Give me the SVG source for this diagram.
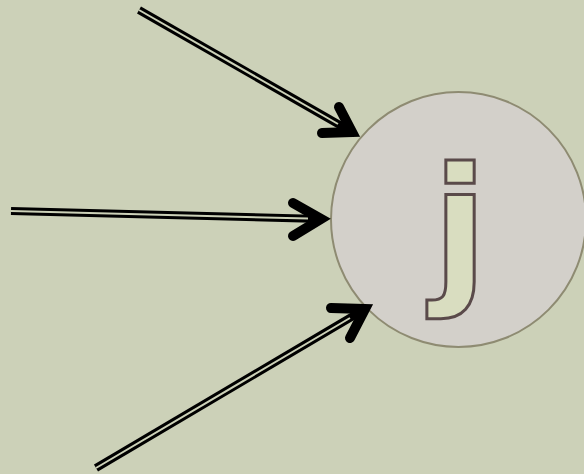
<svg xmlns="http://www.w3.org/2000/svg" width="584" height="474" viewBox="0 0 584 474">
<style>
.shaft{fill:none;stroke:#000;stroke-width:8;stroke-linecap:butt}
.inner{fill:none;stroke:#ccd1b8;stroke-width:2;stroke-linecap:butt}
.head{fill:none;stroke:#000;stroke-width:10;stroke-linecap:round;stroke-linejoin:miter;stroke-miterlimit:10}
.node{fill:#d3d0ca;stroke:#8e8b72;stroke-width:2}
.lbl{font-family:"DejaVu Sans",sans-serif;font-weight:bold;font-size:162px;fill:#d9ddc0;stroke:#5a4a4a;stroke-width:3;text-anchor:middle}
</style>
<rect width="584" height="474" fill="#ccd1b8"/>
<g id="node-j">
<circle class="node" cx="458.5" cy="219.5" r="127.5"/>
<text class="lbl" x="460" y="283">j</text>
</g>
<g id="connectors">
<g id="arrow-top">
<path class="shaft" d="M139,10 L352,132"/>
<path class="inner" d="M139,10 L338,124"/>
<path class="head" d="M339,107 L352,132 L322,133"/>
</g>
<g id="arrow-mid">
<path class="shaft" d="M11,211 L321,219"/>
<path class="inner" d="M11,211 L308,218.6"/>
<path class="head" d="M293,203 L321,219 L293,236"/>
</g>
<g id="arrow-bottom">
<path class="shaft" d="M96,468 L365,309"/>
<path class="inner" d="M96,468 L350,318"/>
<path class="head" d="M331,308 L365,309 L350,338"/>
</g>
</g>
</svg>
